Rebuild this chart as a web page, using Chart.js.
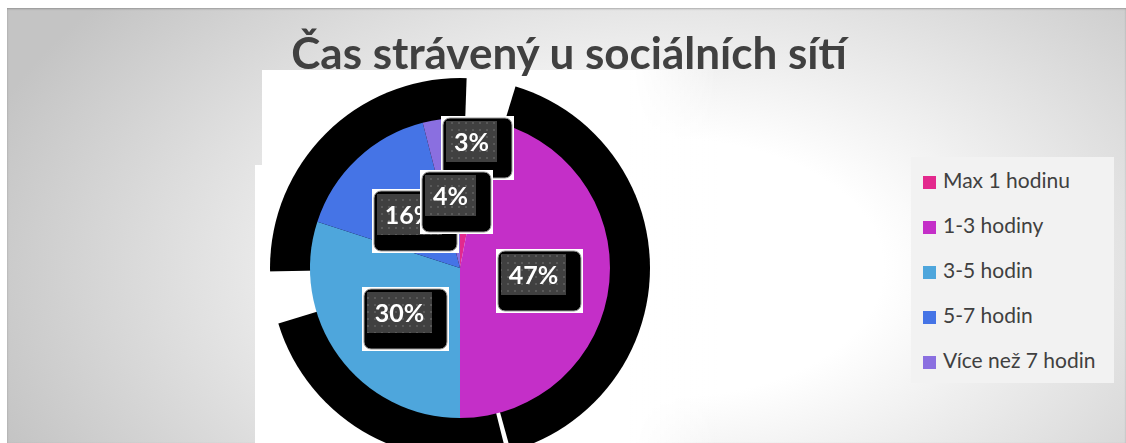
<!DOCTYPE html>
<html>
<head>
<meta charset="utf-8">
<script src="https://cdn.jsdelivr.net/npm/chart.js@4"></script>
<style>
  body { margin: 0; width: 1126px; height: 443px; background: #fff; overflow: hidden; position: relative; }
  #frame {
    position: absolute; left: 7px; top: 8px; width: 1119px; height: 435px;
    background: radial-gradient(ellipse 720px 430px at 660px 260px, #ffffff 0%, #ffffff 30%, #c4c4c4 100%);
    box-shadow: inset 0 1px 2px rgba(0,0,0,0.25);
  }
  #title {
    position: absolute; left: 0; width: 1138px; top: 26px; text-align: center;
    font-family: 'Lato', sans-serif; font-weight: bold; font-size: 44px; color: #404040;
  }
  #wrap { position: absolute; left: 0; top: 0; width: 1126px; height: 443px; }
  #legend {
    position: absolute; left: 911px; top: 157px; width: 203px; height: 226px;
    background: #f2f2f2; font-family: 'Lato', sans-serif; font-size: 21px; color: #404040;
  }
  .item { position: absolute; left: 12px; height: 24px; line-height: 24px; white-space: nowrap; }
  .item span { display: inline-block; width: 13px; height: 13px; margin-right: 7px; vertical-align: -1px; }
</style>
</head>
<body>
<div id="frame"></div>
<div id="wrap"><canvas id="pieChart"></canvas></div>
<div id="title">Čas strávený u sociálních sítí</div>
<div id="legend"></div>
<script>
document.addEventListener('DOMContentLoaded', function () {

    const categories = ['Max 1 hodinu', '1-3 hodiny', '3-5 hodin', '5-7 hodin', 'Více než 7 hodin'];
    const shares = [3, 47, 30, 16, 4];
    const sliceColors = ['#e3298d', '#c42fc8', '#4ea6dc', '#4574e6', '#8a6fe0'];
    // how far out each label sits (fraction of radius)
    const labelRadius = [0.85, 0.49, 0.5, 0.49, 0.49];

    // legend (html)
    const legend = document.getElementById('legend');
    categories.forEach(function (c, i) {
        const d = document.createElement('div');
        d.className = 'item';
        d.style.top = (11 + i * 45) + 'px';
        d.innerHTML = '<span style="background:' + sliceColors[i] + '"></span>' + c;
        legend.appendChild(d);
    });

    // dotted fill for the label boxes
    const pc = document.createElement('canvas');
    pc.width = 7; pc.height = 7;
    const px = pc.getContext('2d');
    px.fillStyle = '#404040';
    px.fillRect(0, 0, 7, 7);
    px.fillStyle = '#595959';
    px.fillRect(3, 3, 2, 2);

    const backdrop = {
        id: 'backdrop',
        beforeDatasetsDraw(chart) {
            const ctx = chart.ctx;
            const arc = chart.getDatasetMeta(0).data[0];
            const cx = arc.x, cy = arc.y, R = arc.outerRadius;
            ctx.save();
            // white plot area, fading out on the right
            const left = cx - R - 48, right = cx + R + 110;
            const g = ctx.createLinearGradient(right - 90, 0, right, 0);
            g.addColorStop(0, 'rgba(255,255,255,1)');
            g.addColorStop(1, 'rgba(255,255,255,0)');
            ctx.fillStyle = '#ffffff';
            ctx.fillRect(left, cy - R - 48, right - 90 - left, 500);
            ctx.fillRect(cx - R - 55, cy - R + 47, 20, 500);
            ctx.fillStyle = g;
            ctx.fillRect(right - 90, cy - R - 48, 90, 500);
            // the heavy black shadow ring
            ctx.fillStyle = '#000';
            ctx.beginPath();
            ctx.arc(cx, cy, R + 40, 0, Math.PI * 2);
            ctx.fill();
            // white gaps in the ring
            ctx.fillStyle = '#ffffff';
            const gaps = [[2, 17], [253, 269], [164.5, 166]];
            gaps.forEach(function (gp) {
                const a0 = (gp[0] - 90) * Math.PI / 180, a1 = (gp[1] - 90) * Math.PI / 180;
                ctx.beginPath();
                ctx.moveTo(cx, cy);
                ctx.arc(cx, cy, R + 45, a0, a1);
                ctx.closePath();
                ctx.fill();
            });
            ctx.restore();
        }
    };

    const boxLabels = {
        id: 'boxLabels',
        afterDatasetsDraw(chart) {
            const ctx = chart.ctx;
            const meta = chart.getDatasetMeta(0);
            ctx.save();
            ctx.font = "bold 25px 'Lato', sans-serif";
            ctx.textAlign = 'center';
            ctx.textBaseline = 'middle';
            meta.data.forEach(function (arc, i) {
                const mid = (arc.startAngle + arc.endAngle) / 2;
                const r = arc.outerRadius * labelRadius[i];
                const x = arc.x + Math.cos(mid) * r;
                const y = arc.y + Math.sin(mid) * r;
                const txt = shares[i] + '%';
                const w = Math.round(ctx.measureText(txt).width) + 16;
                const h = 41;
                const bx = Math.round(x - w / 2), by = Math.round(y - h / 2);
                ctx.fillStyle = '#ffffff';
                ctx.fillRect(bx - 5, by - 5, w + 22, h + 23);
                ctx.fillStyle = '#000';
                ctx.strokeStyle = '#9a9a9a';
                ctx.lineWidth = 1;
                ctx.beginPath();
                ctx.roundRect(bx - 3, by - 3, w + 18, h + 19, 7);
                ctx.fill();
                ctx.stroke();
                ctx.fillStyle = ctx.createPattern(pc, 'repeat');
                ctx.fillRect(bx, by, w, h);
                ctx.fillStyle = '#ffffff';
                ctx.fillText(txt, bx + w / 2, by + h / 2 + 1);
            });
            ctx.restore();
        }
    };

    const ctx = document.getElementById('pieChart').getContext('2d');
    new Chart(ctx, {
        type: 'pie',
        data: {
            labels: categories,
            datasets: [{
                data: shares,
                backgroundColor: sliceColors,
                borderWidth: 0
            }]
        },
        options: {
            responsive: true,
            maintainAspectRatio: false,
            animation: false,
            layout: { padding: { left: 310, right: 516, top: 118, bottom: 25 } },
            plugins: {
                legend: { display: false },
                tooltip: { enabled: false }
            }
        },
        plugins: [backdrop, boxLabels]
    });
});
</script>
</body>
</html>
